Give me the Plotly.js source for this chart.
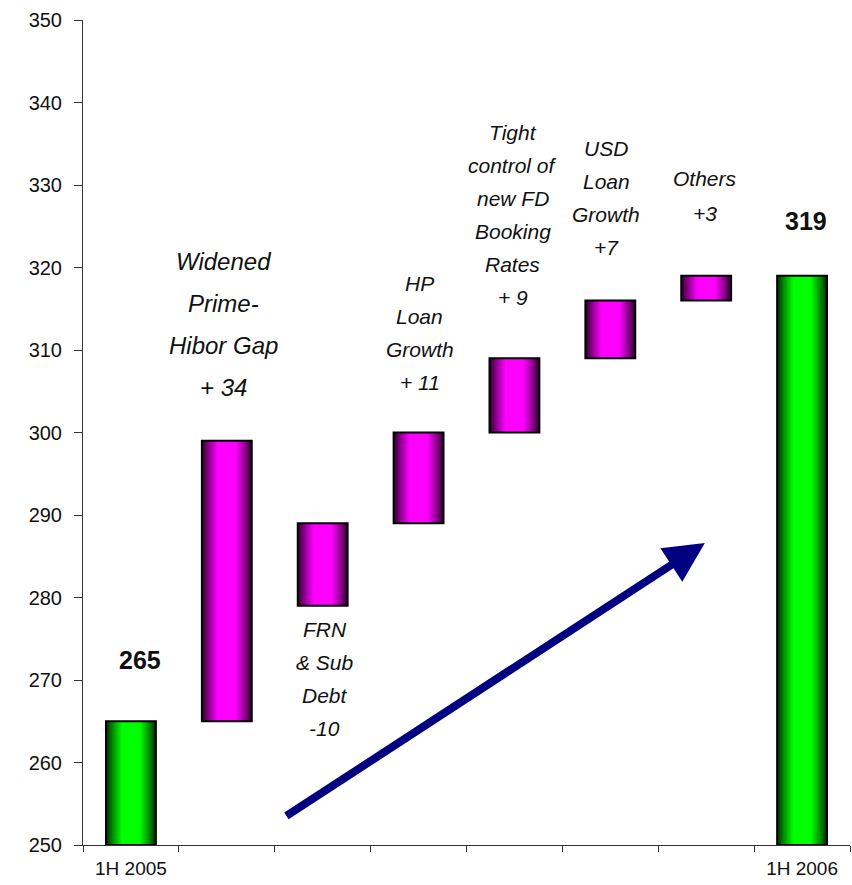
<!DOCTYPE html>
<html>
<head>
<meta charset="utf-8">
<script src="https://cdn.plot.ly/plotly-3.0.1.min.js"></script>
<style>html,body{margin:0;padding:0;background:#fff;}#chart{width:852px;height:885px;}</style>
</head>
<body>
<div id="chart"></div>
<script>
// ---- data ----
const categories = ['1H 2005','Widened Prime-Hibor Gap','FRN & Sub Debt','HP Loan Growth','Tight control of new FD Booking Rates','USD Loan Growth','Others','1H 2006'];
const barBase = [250, 265, 279, 289, 300, 309, 316, 250];
const barTop  = [265, 299, 289, 300, 309, 316, 319, 319];
const isTotal = [true, false, false, false, false, false, false, true];
const xTickLabels = ['1H 2005', '1H 2006'];
const labelLines = [
  ['265'],
  ['Widened','Prime-','Hibor Gap','+ 34'],
  ['FRN','& Sub','Debt','-10'],
  ['HP','Loan','Growth','+ 11'],
  ['Tight','control of','new FD','Booking','Rates','+ 9'],
  ['USD','Loan','Growth','+7'],
  ['Others','+3'],
  ['319']
];

// ---- layout helpers (positions / styles) ----
const xIdx = categories.map((c, i) => i);
const heights = barTop.map((t, i) => t - barBase[i]);
const labelPos = [
  {dx: 0.09, y: 272.4, gap: 0,  size: 25, bold: true},
  {dx: -0.03, y: 320.7, gap: 42, size: 24},
  {dx: 0.02, y: 276.1, gap: 33, size: 21},
  {dx: 0.01, y: 318.1, gap: 33, size: 21},
  {dx: -0.02, y: 336.4, gap: 33, size: 21},
  {dx: -0.04, y: 334.4, gap: 33, size: 21},
  {dx: -0.01, y: 330.8, gap: 35, size: 21},
  {dx: 0.04, y: 325.6, gap: 0,  size: 25, bold: true}
];

const W = 0.52;
const N = 12;
function rgb(c) { return 'rgb(' + c.map(v => Math.round(v)).join(',') + ')'; }

const traces = [];
for (let k = 0; k < N; k++) {
  const frac = 1 - 0.62 * k / (N - 1);
  const I = 0.18 + 0.82 * Math.pow(k / (N - 1), 0.85);
  const g = rgb([0, 255 * I, 0]);
  const m = rgb([255 * I, 0, 255 * I]);
  traces.push({
    type: 'bar',
    x: xIdx,
    y: heights,
    base: barBase,
    width: W * frac,
    marker: {
      color: isTotal.map(tt => tt ? g : m),
      line: {width: 0}
    },
    textposition: 'none',
    hoverinfo: 'skip',
    showlegend: false
  });
}
// outline
traces.push({
  type: 'bar',
  x: xIdx,
  y: heights,
  base: barBase,
  width: W,
  marker: {color: 'rgba(0,0,0,0)', line: {width: 2, color: '#000'}},
  hovertext: categories,
  hoverinfo: 'text',
  textposition: 'none',
  showlegend: false
});

const annotations = [];
labelLines.forEach((lines, i) => {
  const p = labelPos[i];
  lines.forEach((ln, j) => {
    annotations.push({
      x: xIdx[i] + p.dx, y: p.y, xref: 'x', yref: 'y',
      yshift: -j * p.gap,
      text: p.bold ? '<b>' + ln + '</b>' : '<i>' + ln + '</i>',
      showarrow: false,
      xanchor: 'center', yanchor: 'middle',
      font: {family: '"Liberation Sans", Arial, sans-serif', size: p.size, color: '#111'}
    });
  });
});
// trend arrow
annotations.push({
  x: 5.986, y: 286.6, xref: 'x', yref: 'y',
  ax: 1.606, ay: 253.4, axref: 'x', ayref: 'y',
  showarrow: true, arrowhead: 2, arrowsize: 1, arrowwidth: 8, arrowcolor: '#000080',
  text: ''
});

const layout = {
  width: 852, height: 885,
  margin: {l: 83, r: 2, t: 20, b: 40},
  paper_bgcolor: '#fff', plot_bgcolor: '#fff',
  barmode: 'overlay',
  showlegend: false,
  font: {family: '"Liberation Sans", Arial, sans-serif', color: '#111'},
  xaxis: {
    range: [-0.5, 7.5],
    tickvals: [xIdx[0], xIdx[7]],
    ticktext: xTickLabels,
    ticks: '',
    tickfont: {size: 19, color: '#111'},
    ticklabelstandoff: 6,
    showline: true, linecolor: '#333', linewidth: 1,
    showgrid: false, zeroline: false,
    minor: {tick0: 0.5, dtick: 1, ticks: 'outside', ticklen: 6, tickcolor: '#333', showgrid: false},
    fixedrange: true
  },
  yaxis: {
    range: [250, 350],
    dtick: 10,
    ticks: 'outside', ticklen: 8, tickcolor: '#333',
    tickfont: {size: 20, color: '#111'},
    ticklabelstandoff: 8,
    showline: true, linecolor: '#333', linewidth: 1,
    showgrid: false, zeroline: false,
    fixedrange: true
  },
  annotations: annotations
};

Plotly.newPlot('chart', traces, layout, {displayModeBar: false, staticPlot: true});
</script>
</body>
</html>
